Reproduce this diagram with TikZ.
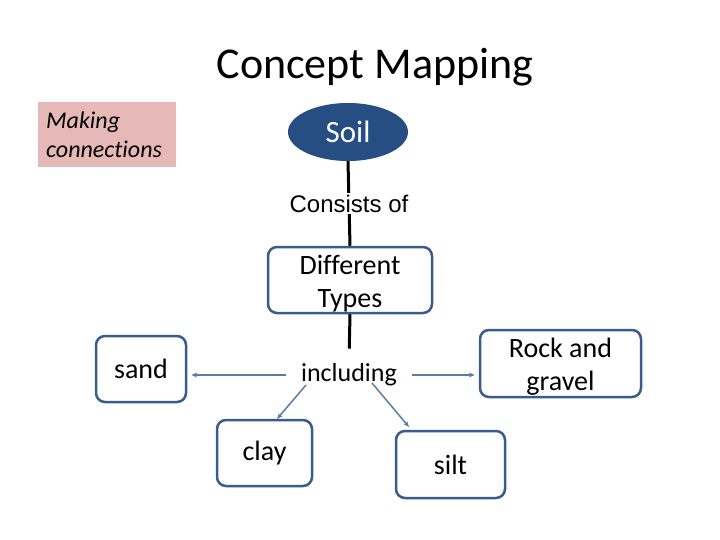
\documentclass[tikz,border=0pt]{standalone}
\usepackage{fontspec}
\setmainfont[Ligatures=NoCommon]{Carlito}
\newfontfamily\arialfont{Liberation Sans}
\usetikzlibrary{arrows.meta,shapes.geometric}
\definecolor{boxline}{RGB}{56,93,138}
\definecolor{soilfill}{RGB}{38,78,130}
\definecolor{arrowc}{RGB}{90,125,165}
\definecolor{pinkfill}{RGB}{230,185,184}
\tikzset{
  conc/.style={draw=boxline, line width=2.5pt, rounded corners=9pt, fill=white, align=center, inner sep=0pt, font=\fontsize{28}{33}\selectfont},
  blk/.style={line width=3pt, black},
  arr/.style={draw=arrowc, line width=1.5pt, -{Stealth[length=6pt,width=5pt]}},
}
\begin{document}
\begin{tikzpicture}[x=1pt,y=-1pt]
\useasboundingbox (0,0) rectangle (720,540);
\node (title) at (375,67) {\fontsize{44}{48}\selectfont Concept Mapping};
\node[fill=pinkfill, minimum width=138pt, minimum height=65pt, anchor=north west, inner sep=0pt] (mk) at (38,102) {};
\node[anchor=west, align=left, font=\fontsize{24}{29}\itshape\selectfont, inner sep=0pt] (mktext) at (46,135) {Making\\connections};
\node[ellipse, fill=soilfill, minimum width=120pt, minimum height=58pt, inner sep=0pt, text=white, font=\fontsize{31}{34}\selectfont] (soil) at (348,132) {Soil};
\node[conc, minimum width=164pt, minimum height=66pt] (types) at (350,280) {\rule{0pt}{26pt}Different\\Types};
\draw[blk] (soil.south) -- (types.north) node[midway, fill=white, inner sep=2pt, font=\arialfont\fontsize{24}{26}\selectfont] (cons) {Consists of};
\node[inner xsep=15pt, inner ysep=3pt, font=\fontsize{26}{28}\selectfont] (inc) at (349,375) {including};
\draw[blk, shorten >=12pt] (types.south) -- (inc.north);
\node[conc, minimum width=90pt, minimum height=66pt] (sand) at (141,369) {sand};
\node[conc, minimum width=161pt, minimum height=67pt] (rock) at (560.5,363.5) {\rule{0pt}{26pt}Rock and\\gravel};
\node[conc, minimum width=95pt, minimum height=66pt] (clay) at (264.5,453) {clay};
\node[conc, minimum width=109pt, minimum height=67pt] (silt) at (450.5,464.5) {silt};
\coordinate (incsw) at (306,385);
\coordinate (incse) at (372,383);
\draw[arr, shorten >=4pt] (inc.west) -- (inc.west -| sand.east);
\draw[arr, shorten >=4pt] (inc.east) -- (inc.east -| rock.west);
\draw[arr] (incsw) -- (277,419) coordinate (clayin);
\draw[arr] (incse) -- (409,427) coordinate (siltin);
\end{tikzpicture}
\end{document}
